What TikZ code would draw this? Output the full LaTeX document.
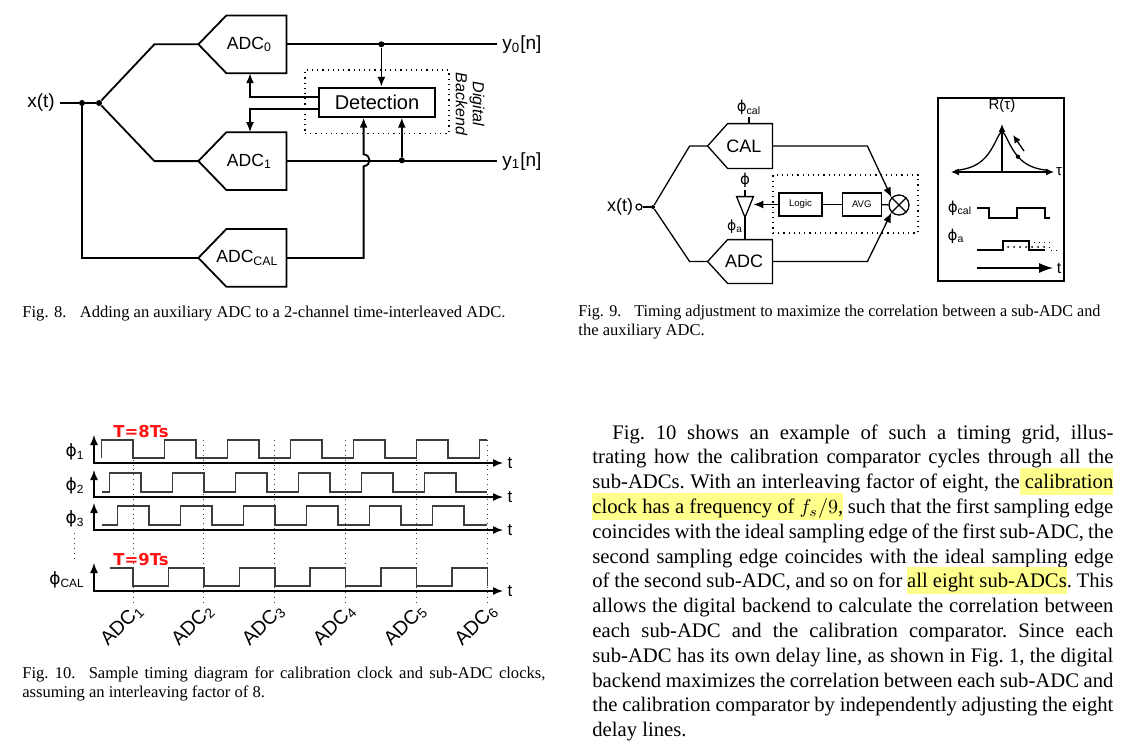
\documentclass[tikz,border=0pt]{standalone}
\usepackage{fontspec}
\setmainfont{Liberation Serif}
\setsansfont{Liberation Sans}
\newfontfamily\phifont{DejaVu Sans}
\usepackage{xcolor}
\usepackage{graphicx}
\usepackage{tikz}
\usetikzlibrary{arrows.meta,positioning,calc,patterns}

\definecolor{hlyellow}{RGB}{255,255,140}
\definecolor{wavegray}{RGB}{60,60,60}
\definecolor{tred}{RGB}{255,20,20}

\newcommand{\ph}{{\phifont\symbol{"03D5}}}
\newsavebox{\hlbox}
\newcommand{\hl}[1]{\sbox{\hlbox}{#1}\rlap{\smash{\textcolor{hlyellow}{\rule[-3.2pt]{\wd\hlbox}{13.6pt}}}}\usebox{\hlbox}}
\newcommand{\jline}[1]{\hbox to \linewidth{#1}}
\newcommand{\bodyfont}{\rmfamily\fontsize{10.34}{12.4}\selectfont}
\newcommand{\capfont}{\rmfamily\fontsize{8.27}{9.5}\selectfont}
\newcommand{\sfsize}[1]{\sffamily\fontsize{#1}{#1}\selectfont}

\tikzset{
  fig8/.style={line width=0.9pt},
  fig9/.style={line width=0.65pt},
  adcbox/.style={minimum width=29.6pt,minimum height=28.5pt,inner sep=0pt,font=\sfsize{8.8}},
  adcsmall/.style={minimum width=22pt,minimum height=22pt,inner sep=0pt,font=\sfsize{9}},
  block/.style={draw,line width=0.9pt,minimum width=58pt,minimum height=14.5pt,inner sep=0pt,font=\sfsize{10}},
  smallblock/.style={draw,line width=0.65pt,minimum height=11.5pt,inner sep=0pt,font=\sfsize{4.8}},
  dotbox/.style={draw,dotted,line width=0.6pt,inner sep=0pt},
  jdot/.style={circle,fill,inner sep=0pt,minimum size=3pt},
  odot/.style={circle,draw,fill=white,line width=0.6pt,inner sep=0pt,minimum size=3pt},
  lbl/.style={inner sep=2.5pt,font=\sfsize{9.5}},
  wave/.style={line width=0.75pt,draw=wavegray},
  taxis/.style={line width=0.7pt,<->},
  gridline/.style={dotted,line width=0.45pt,draw=black!75},
  tlbl/.style={text=tred,inner sep=0pt,font=\phifont\bfseries\fontsize{8.2}{9}\selectfont},
  adclbl/.style={rotate=45,inner sep=0pt,font=\sfsize{9.8}},
}

\begin{document}
\begin{tikzpicture}[x=0.5pt,y=-0.5pt,>={Latex[length=5pt,width=4pt]}]
\fill[white] (0,0) rectangle (1142,751);
\useasboundingbox (0,0) rectangle (1142,751);

% Fig. 8: the three ADCs
\node[adcbox] (adc0) at (256.4,44.3) {\hspace*{-7pt}ADC\textsubscript{0}};
\node[adcbox] (adc1) [below=29.5pt of adc0] {\hspace*{-7pt}ADC\textsubscript{1}};
\node[adcbox] (adccal) [below=19.5pt of adc1] {\hspace*{-9pt}ADC\textsubscript{CAL}};
\foreach \n in {adc0,adc1,adccal}
  \draw[fig8] (\n.north east) -- (\n.north west) -- ($(\n.west)+(-28,0)$) coordinate (\n tip) -- (\n.south west) -- (\n.south east) -- cycle;

% input and split
\node[lbl] (xt) at (41,103) {x(t)};
\node[jdot] (d1) at (82,103) {};
\node[jdot] (d2) at (99,103) {};
\draw[fig8] (xt.east) -- (d1) -- (d2);
\draw[fig8] (d2) -- ([xshift=-22pt]adc0tip) -- (adc0tip);
\draw[fig8] (d2) -- ([xshift=-22pt]adc1tip) -- (adc1tip);
\draw[fig8] (d1) |- (adccaltip);

% outputs
\node[lbl,anchor=west] (y0) at (497,44.3) {y\textsubscript{0}[n]};
\node[lbl,anchor=west] (y1) at (adc1.east -| y0.west) {y\textsubscript{1}[n]};
\draw[fig8] (adc0.east) -- (y0.west);
\draw[fig8] (adc1.east) -- (y1.west);
\node[jdot] (j0) at (381.4,44.3) {};
\node[jdot] (j1) at (401.8,160.3) {};

% digital backend
\node[dotbox,minimum width=72pt,minimum height=31.7pt] (dback) at (377,101.7) {};
\node[block] (det) at (377,102.2) {Detection};
\node[rotate=-90,align=center,inner sep=0pt,font=\sffamily\itshape\fontsize{8}{8.5}\selectfont] (dlbl) at (470,104) {Digital\\Backend};
\draw[fig8,->] (j0) -- (j0 |- det.north);
\draw[fig8,->] (j1) -- (j1 |- det.south);
\draw[fig8,->] ([yshift=2.75pt]det.west) -| ([xshift=-3.2pt]adc0.south);
\draw[fig8,->] ([yshift=-3.4pt]det.west) -| ([xshift=-3.2pt]adc1.north);
\coordinate (hopa) at (363.6,166.3);
\coordinate (hopb) at (363.6,154.3);
\draw[fig8,->] (adccal.east) -| (hopa) .. controls +(8,-1) and +(8,1) .. (hopb) -- (hopb |- det.south);

% Fig. 9: CAL and ADC
\node[lbl,font=\sfsize{9}] (xt9) at (620,207) {x(t)};
\node[odot] (xin9) at (639,207) {};
\node[jdot,minimum size=2pt] (sp9) at (653,207) {};
\draw[fig9] (xin9) -- (sp9);
\node[adcsmall] (cal) at (750,146) {\hspace*{-6pt}CAL};
\node[adcsmall,minimum height=21.5pt] (adc) at (750,261.5) {\hspace*{-6pt}ADC};
\foreach \n in {cal,adc}
  \draw[fig9] (\n.north east) -- (\n.north west) -- ($(\n.west)+(-20,0)$) coordinate (\n tip) -- (\n.south west) -- (\n.south east) -- cycle;
\draw[fig9] (sp9) -- ([xshift=-9pt]caltip) -- (caltip);
\draw[fig9] (sp9) -- ([xshift=-9pt]adctip) -- (adctip);
\node[inner sep=1pt,anchor=south,font=\sfsize{7.5}] (phical) at (749,117) {\ph\textsubscript{cal}};
\draw[fig9] (phical.south) -- (phical.south |- cal.north);

% delay buffer
\node[inner sep=0pt,minimum width=8pt,minimum height=10pt] (buf) at (745,207) {};
\draw[fig9] (buf.north west) -- (buf.north east) -- (buf.south) -- cycle;
\node[inner sep=1pt,anchor=south,font=\sfsize{7.5}] (phi) at (745,190) {\ph};
\draw[fig9] (phi.south) -- (buf.north);
\node[inner sep=0pt,font=\sfsize{7}] (phia) at (735,227) {\ph\textsubscript{a}};
\draw[fig9] (buf.south) -- (buf.south |- adc.north);

% correlation loop
\node[dotbox,minimum width=72.5pt,minimum height=29pt] (loop) at (845.5,204) {};
\node[smallblock,minimum width=21.5pt] (logic) at (800.5,204.5) {Logic};
\node[smallblock,minimum width=19.5pt] (avg) [right=9.5pt of logic] {AVG};
\node[circle,draw,line width=0.65pt,minimum size=10pt,inner sep=0pt] (mul) at (899,205) {};
\draw[fig9] (mul.north west) -- (mul.south east) (mul.north east) -- (mul.south west);
\draw[fig9] (logic) -- (avg);
\draw[fig9] (avg) -- (mul);
\draw[fig9,->] (logic.west) -- (logic.west -| buf.east);
\draw[fig9,->] (cal.east) -- ++(95,0) -- (mul.north west);
\draw[fig9,->] (adc.east) -- ++(95,0) -- (mul.south west);

% Fig. 9: correlation panel
\node[draw,line width=1pt,minimum width=63pt,minimum height=91.5pt,inner sep=0pt] (rpanel) at (1001,189.5) {};
\node[inner sep=0pt,font=\sfsize{7.5}] (rlbl) at (1002,106) {R(τ)};
\coordinate (ro) at (1002,172);
\coordinate (rl) at (951,172);
\coordinate (rr) at (1054,172);
\coordinate (rt) at (1002,124);
\draw[fig9,{Latex[length=4pt,width=3.5pt]}-{Latex[length=4pt,width=3.5pt]}] (rl) -- (rr);
\draw[fig9,-{Latex[length=4pt,width=3.5pt]}] (ro) -- (rt);
\node[inner sep=0pt,font=\sfsize{7.5}] (tau) at (1059,172) {τ};
\draw[fig9] plot[smooth,domain=-47:47,samples=48] ({1002+\x},{172-40*exp(-(sqrt(\x*\x+16)-4)/13)});
\node[jdot,minimum size=2.2pt] (rdot) at (1018,156.7) {};
\coordinate (ra) at (1024,151);
\coordinate (rb) at (1013,135);
\draw[fig9,-{Latex[length=4pt,width=3.5pt]}] (ra) -- (rb);
\node[inner sep=0pt,font=\sfsize{7.5}] (wcal) at (960,208) {\ph\textsubscript{cal}};
\draw[fig9] (977,208) -| (989,218) -| (1017,208) -| (1045,218) -- (1050,218);
\node[inner sep=0pt,font=\sfsize{7.5}] (wa) at (956,236) {\ph\textsubscript{a}};
\fill[pattern=dots,pattern color=black] (1004,242) rectangle (1049,249.5);
\draw[fig9] (977,250) -| (1003,241) -| (1029,250) -- (1045,250);
\draw[dotted,line width=0.5pt] (1029,242) -| (1049,250) -- (1058,250);
\coordinate (ta) at (977,268);
\coordinate (tb) at (1053,268);
\draw[fig9,-{Latex[length=7pt,width=5pt]}] (ta) -- (tb);
\node[inner sep=0pt,font=\sfsize{8}] (tt) at (1059,268) {t};

% Fig. 10: timing grid
\foreach \y/\top in {463/435,497/470,530/503,591/563} {
  \draw[taxis] (94,\top) -- (94,\y) -- (503,\y);
  \node[inner sep=0pt,font=\sfsize{8.5}] at (510,\y) {t};
}
\node[inner sep=0pt,font=\sfsize{8.5}] (p1) at (75,452) {\ph\textsubscript{1}};
\node[inner sep=0pt,font=\sfsize{8.5}] (p2) at (75,486) {\ph\textsubscript{2}};
\node[inner sep=0pt,font=\sfsize{8.5}] (p3) at (75,519) {\ph\textsubscript{3}};
\node[inner sep=0pt,font=\sfsize{8.5}] (pcal) at (67,580) {\ph\textsubscript{CAL}};
\draw[wave] (101.5,458) -- ++(0,-18) \foreach \k in {1,...,6}{ -- ++(31.5,0) -- ++(0,18) -- ++(31.5,0) -- ++(0,-18)} -- ++(7.5,0);
\draw[wave] (102,492) -- (109.4,492) -- ++(0,-19) \foreach \k in {1,...,5}{ -- ++(31.5,0) -- ++(0,19) -- ++(31.5,0) -- ++(0,-19)} -- ++(31.5,0) -- ++(0,19) -- (487,492);
\draw[wave] (102,525) -- (117.3,525) -- ++(0,-19) \foreach \k in {1,...,5}{ -- ++(31.5,0) -- ++(0,19) -- ++(31.5,0) -- ++(0,-19)} -- ++(31.5,0) -- ++(0,19) -- (487,525);
\draw[wave] (110,568) -- (133,568) -- ++(0,18) \foreach \k in {1,...,5}{ -- ++(35.44,0) -- ++(0,-18) -- ++(35.44,0) -- ++(0,18)};
\foreach \i in {1,...,6} {
  \pgfmathsetmacro\gx{133+70.875*(\i-1)}
  \draw[gridline] (\gx,440) -- (\gx,603);
  \node[adclbl,anchor=east] (a\i) at (\gx+7,607) {ADC\textsubscript{\i}};
}
\draw[gridline] (74,533) -- (74,560);
\node[tlbl] (t8) at (141,432) {T=8Ts};
\node[tlbl] (t9) at (141,560) {T=9Ts};

% captions
\node[anchor=base west,inner sep=0pt,font=\capfont] (cap8) at (22,317) {\resizebox{241.5pt}{\height}{Fig. 8.\hspace{0.8em}Adding an auxiliary ADC to a 2-channel time-interleaved ADC.}};
\node[anchor=base west,inner sep=0pt,font=\capfont] (cap9) at (578,316) {\parbox[t]{261pt}{\hbox{\resizebox{261pt}{\height}{Fig. 9.\hspace{0.8em}Timing adjustment to maximize the correlation between a sub-ADC and}}\hbox{the auxiliary ADC.}}};
\node[anchor=base west,inner sep=0pt,font=\capfont] (cap10) at (22,678) {\parbox[t]{261.5pt}{\frenchspacing\spaceskip=0.25em plus 0.6em minus 0.1em
\jline{Fig. 10.\hspace{0.8em}Sample timing diagram for calibration clock and sub-ADC clocks,}
\hbox{assuming an interleaving factor of 8.}}};

% body text
\node[anchor=base west,inner sep=0pt,font=\bodyfont] (para) at (592,439) {\parbox[t]{260.5pt}{\frenchspacing\spaceskip=0.25em plus 0.6em minus 0.08em
\jline{\hspace*{10pt}Fig. 10 shows an example of such a timing grid, illus-}
\jline{trating how the calibration comparator cycles through all the}
\jline{sub-ADCs. With an interleaving factor of eight, the\hl{ calibration}}
\jline{\hl{clock has a frequency of $f_s/9$,} such that the first sampling edge}
\jline{coincides with the ideal sampling edge of the first sub-ADC, the}
\jline{second sampling edge coincides with the ideal sampling edge}
\jline{of the second sub-ADC, and so on for \hl{all eight sub-ADCs}. This}
\jline{allows the digital backend to calculate the correlation between}
\jline{each sub-ADC and the calibration comparator. Since each}
\jline{sub-ADC has its own delay line, as shown in Fig. 1, the digital}
\jline{backend maximizes the correlation between each sub-ADC and}
\jline{the calibration comparator by independently adjusting the eight}
\hbox{delay lines.}}};
\end{tikzpicture}
\end{document}
